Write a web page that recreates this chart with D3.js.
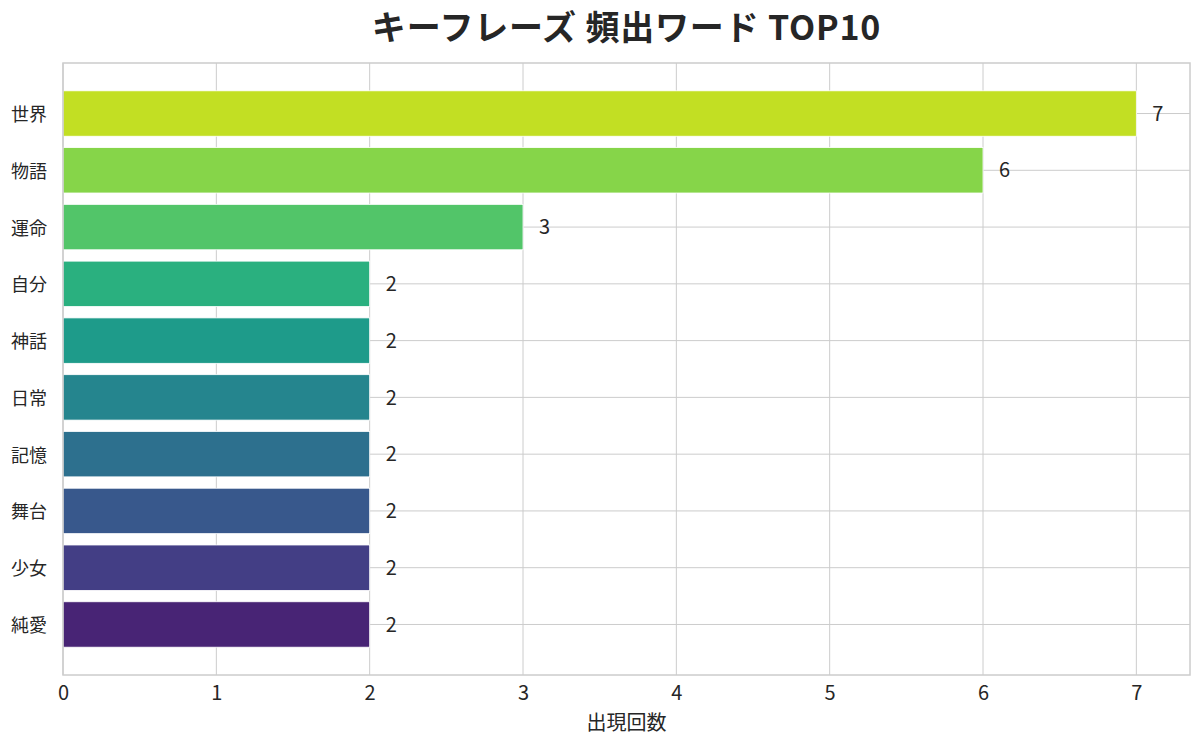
<!DOCTYPE html>
<html>
<head>
<meta charset="utf-8">
<script src="https://cdn.jsdelivr.net/npm/d3@7"></script>
<style>
  body { margin: 0; background: #fff; }
  text { font-family: "Noto Sans CJK JP", "Noto Sans", sans-serif; fill: #262626; }
</style>
</head>
<body>
<div class="chart"></div>
<script>
// data
const words = ["世界", "物語", "運命", "自分", "神話", "日常", "記憶", "舞台", "少女", "純愛"];
const counts = [7, 6, 3, 2, 2, 2, 2, 2, 2, 2];
const barColors = ["#c2df23", "#86d549", "#52c569", "#2ab07f", "#1e9b8a",
                   "#25858e", "#2d708e", "#38588c", "#433e85", "#482475"];
const xTicks = [0, 1, 2, 3, 4, 5, 6, 7];

let margin = {top: 63, right: 10, left: 63, bottom: 71};
let outWidth = 1200, outHeight = 746;
let width = outWidth - margin.left - margin.right,
    height = outHeight - margin.top - margin.bottom;

const svg = d3.select(".chart").append("svg")
  .attr("width", outWidth)
  .attr("height", outHeight);

const g = svg.append("g")
  .attr("transform", `translate(${margin.left}, ${margin.top})`);

const xScale = d3.scaleLinear()
  .domain([0, d3.max(counts) * 1.05])
  .range([0, width]);

const yScale = d3.scaleBand()
  .domain(words)
  .range([0, height])
  .paddingInner(0.2)
  .paddingOuter(0.49);

// grid
g.selectAll(".vgrid")
  .data(xTicks)
  .enter().append("line")
  .attr("x1", d => xScale(d)).attr("x2", d => xScale(d))
  .attr("y1", 0).attr("y2", height)
  .attr("stroke", "#cccccc").attr("stroke-width", 1);

g.selectAll(".hgrid")
  .data(words)
  .enter().append("line")
  .attr("x1", 0).attr("x2", width)
  .attr("y1", d => yScale(d) + yScale.bandwidth() / 2)
  .attr("y2", d => yScale(d) + yScale.bandwidth() / 2)
  .attr("stroke", "#cccccc").attr("stroke-width", 1);

// bars
g.selectAll("rect.bar")
  .data(words)
  .enter().append("rect")
  .attr("class", "bar")
  .attr("x", xScale(0))
  .attr("y", d => yScale(d))
  .attr("width", (d, i) => xScale(counts[i]) - xScale(0))
  .attr("height", yScale.bandwidth())
  .attr("fill", (d, i) => barColors[i])
  .attr("stroke", "#ffffff")
  .attr("stroke-width", 0.8);

// value labels
g.selectAll(".val")
  .data(words)
  .enter().append("text")
  .attr("x", (d, i) => xScale(counts[i]) + 16)
  .attr("y", d => yScale(d) + yScale.bandwidth() / 2)
  .attr("dy", "0.36em")
  .attr("font-size", 20)
  .text((d, i) => counts[i]);

// frame
g.append("rect")
  .attr("x", 0).attr("y", 0)
  .attr("width", width).attr("height", height)
  .attr("fill", "none")
  .attr("stroke", "#cccccc").attr("stroke-width", 1.5);

// axes
const xAxis = d3.axisBottom(xScale).tickValues(xTicks).tickSize(0).tickPadding(11);
const yAxis = d3.axisLeft(yScale).tickSize(0).tickPadding(16);

g.append("g")
  .attr("class", "axis x-axis")
  .attr("transform", `translate(0, ${height})`)
  .call(xAxis)
  .call(a => a.select(".domain").remove())
  .selectAll("text").attr("font-size", 20).attr("fill", "#262626")
  .style("font-family", '"Noto Sans CJK JP", sans-serif');

g.append("g")
  .attr("class", "axis y-axis")
  .call(yAxis)
  .call(a => a.select(".domain").remove())
  .selectAll("text").attr("font-size", 18).attr("fill", "#262626")
  .attr("dy", "0.42em")
  .style("font-family", '"Noto Sans CJK JP", sans-serif');

// titles
svg.append("text")
  .attr("x", margin.left + width / 2)
  .attr("y", 40)
  .attr("text-anchor", "middle")
  .attr("font-size", 34)
  .attr("font-weight", "bold")
  .attr("letter-spacing", 0.8)
  .text("キーフレーズ 頻出ワード TOP10");

svg.append("text")
  .attr("x", margin.left + width / 2)
  .attr("y", 730)
  .attr("text-anchor", "middle")
  .attr("font-size", 20)
  .text("出現回数");
</script>
</body>
</html>
